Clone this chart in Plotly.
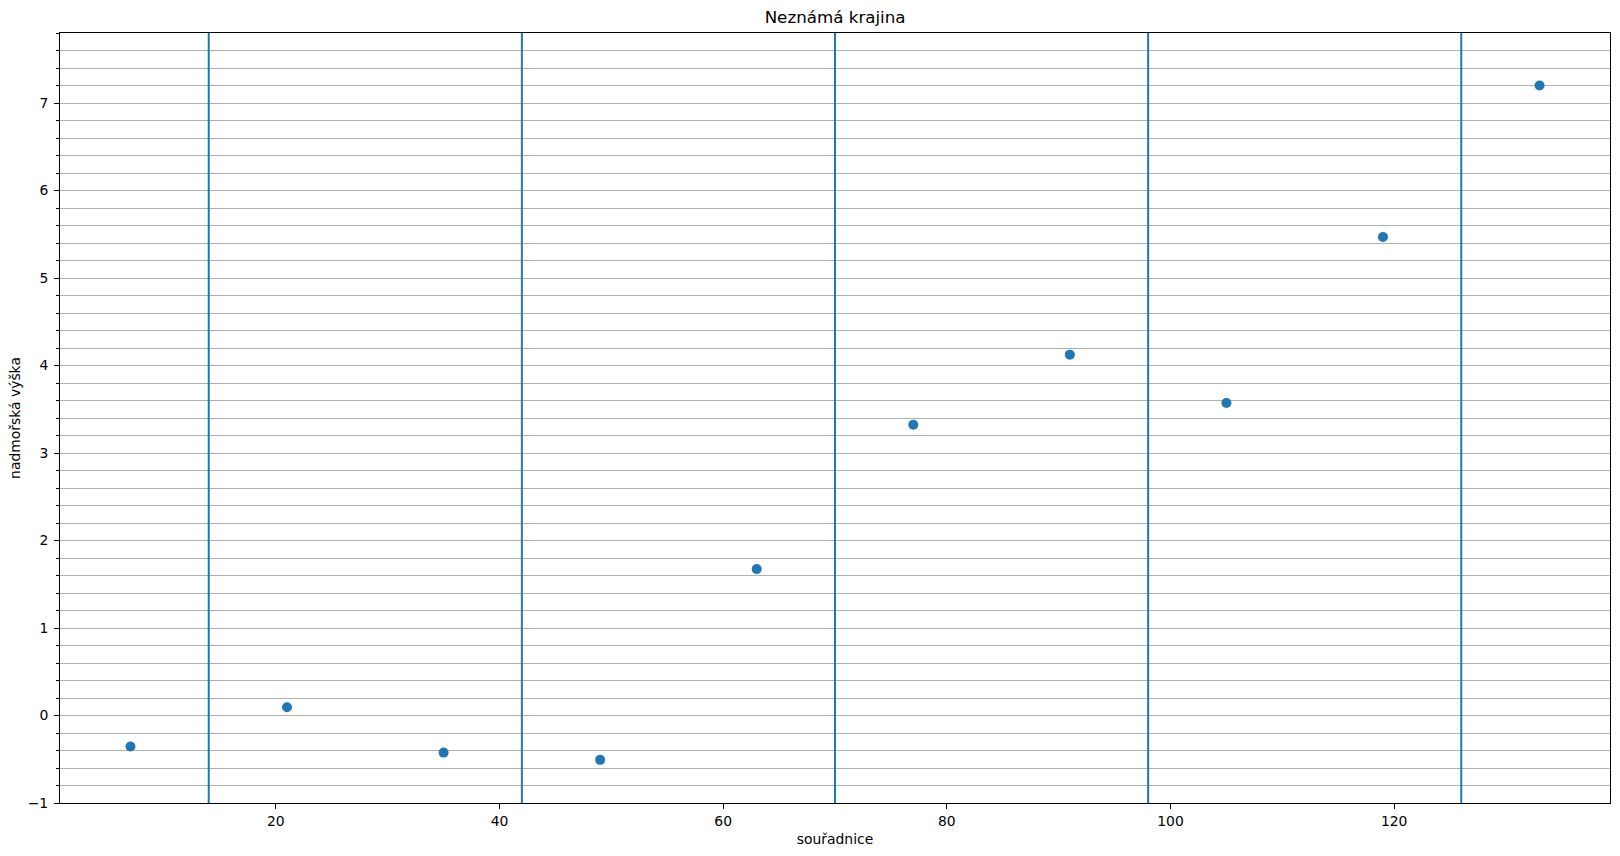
import plotly.graph_objects as go

# souřadnice bodů a jejich nadmořské výšky
souradnice = [7, 21, 35, 49, 63, 77, 91, 105, 119, 133]
vysky = [-0.354, 0.094, -0.424, -0.507, 1.673, 3.323, 4.124, 3.571, 5.468, 7.2]
# hranice úseků (svislé čáry)
hranice = [14, 42, 70, 98, 126]
x_ticks = [20, 40, 60, 80, 100, 120]
y_ticks = [-1, 0, 1, 2, 3, 4, 5, 6, 7]

blue = '#1f77b4'
font = 'DejaVu Sans'

fig = go.Figure()
fig.add_trace(go.Scatter(
    x=souradnice,
    y=vysky,
    mode='markers',
    marker=dict(color=blue, size=10),
    showlegend=False,
))

for h in hranice:
    fig.add_shape(type='line', x0=h, x1=h, xref='x', y0=0, y1=1, yref='paper',
                  line=dict(color=blue, width=2), layer='above')

fig.update_layout(
    width=1620,
    height=856,
    paper_bgcolor='white',
    plot_bgcolor='white',
    margin=dict(l=60, r=10, t=33, b=53, autoexpand=False),
    font=dict(family=font, size=13.9, color='black'),
    title=dict(text='Neznámá krajina', x=0.5155, xanchor='center', y=1 - 17.5 / 856,
               yanchor='middle', font=dict(size=16.7)),
    xaxis=dict(
        range=[0.7, 139.3],
        tickvals=x_ticks,
        ticks='outside', ticklen=5, tickcolor='black', tickfont=dict(size=13.9),
        showgrid=False, zeroline=False, automargin=False,
        showline=True, linecolor='black', mirror=True, linewidth=1,
        title=dict(text='souřadnice', standoff=6, font=dict(size=13.9)),
    ),
    yaxis=dict(
        range=[-1, 7.8],
        tickvals=y_ticks,
        ticks='outside', ticklen=5, tickcolor='black', tickfont=dict(size=13.9),
        ticklabelstandoff=3,
        showgrid=True, gridcolor='#b0b0b0', gridwidth=1,
        zeroline=False, automargin=False,
        showline=True, linecolor='black', mirror=True, linewidth=1,
        layer='above traces',
        minor=dict(dtick=0.2, tick0=0, ticks='outside', ticklen=3, tickcolor='black',
                   showgrid=True, gridcolor='#b0b0b0', gridwidth=1),
        title=dict(text='nadmořská výška', standoff=3, font=dict(size=13.9)),
    ),
)

# stránka bez okrajů, aby graf seděl přesně do okna
fig.write_html('out.html', config={'displayModeBar': False},
               post_script="document.body.style.margin='0';document.body.style.overflow='hidden';")
